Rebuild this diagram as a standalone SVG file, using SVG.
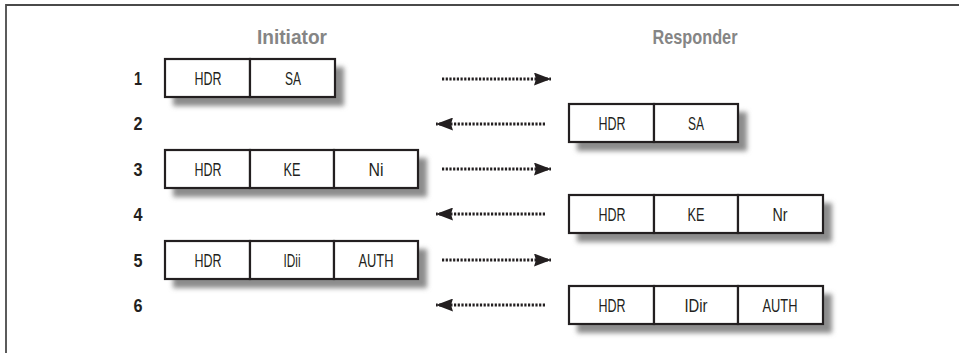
<svg xmlns="http://www.w3.org/2000/svg" width="959" height="353" viewBox="0 0 959 353">
<defs>
<filter id="sh" x="-20%" y="-50%" width="140%" height="200%">
<feGaussianBlur stdDeviation="2.8"/>
</filter>
<marker id="ah" viewBox="0 0 17 13" refX="17" refY="6.5" markerWidth="17" markerHeight="13" markerUnits="userSpaceOnUse" orient="auto">
<path d="M0,0 L17,6.5 L0,13 L2,6.5 Z" fill="#231f20"/>
</marker>
<style>
.frame{stroke:#4a4a4a;stroke-width:1.8;fill:none}
.shadow{fill:#8c8c8c;filter:url(#sh)}
.cell{fill:#fff;stroke:#231f20;stroke-width:2.2}
.lbl{font-family:"Liberation Sans",Arial,sans-serif;font-size:18px;fill:#231f20;text-anchor:middle}
.num{font-family:"Liberation Sans",Arial,sans-serif;font-size:18px;font-weight:bold;fill:#231f20;text-anchor:middle}
.ttl{font-family:"Liberation Sans",Arial,sans-serif;font-size:20px;font-weight:bold;fill:#858585;text-anchor:middle}
.arr{stroke:#231f20;stroke-width:3;stroke-dasharray:2.2 1.5;fill:none;marker-end:url(#ah)}
</style>
</defs>
<rect width="959" height="353" fill="#fff"/>
<path class="frame" d="M6,353 L6,5 L959,5"/>

<g id="titles">
<text class="ttl" x="292" y="44" textLength="70" lengthAdjust="spacingAndGlyphs">Initiator</text>
<text class="ttl" x="695" y="44" textLength="85" lengthAdjust="spacingAndGlyphs">Responder</text>
</g>

<g id="numbers">
<text class="num" x="138" y="85" textLength="8" lengthAdjust="spacingAndGlyphs">1</text>
<text class="num" x="138" y="130" textLength="9" lengthAdjust="spacingAndGlyphs">2</text>
<text class="num" x="138" y="176" textLength="9" lengthAdjust="spacingAndGlyphs">3</text>
<text class="num" x="138" y="221" textLength="9" lengthAdjust="spacingAndGlyphs">4</text>
<text class="num" x="138" y="267" textLength="9" lengthAdjust="spacingAndGlyphs">5</text>
<text class="num" x="138" y="312" textLength="9" lengthAdjust="spacingAndGlyphs">6</text>
</g>

<g id="msg1">
<rect class="shadow" x="173" y="67" width="171" height="39"/>
<rect class="cell" x="165" y="59" width="85" height="38"/>
<rect class="cell" x="250" y="59" width="85" height="38"/>
<text class="lbl" x="208" y="85" textLength="27" lengthAdjust="spacingAndGlyphs">HDR</text>
<text class="lbl" x="293" y="85" textLength="16" lengthAdjust="spacingAndGlyphs">SA</text>
</g>

<g id="msg2">
<rect class="shadow" x="577" y="112" width="170" height="39"/>
<rect class="cell" x="569" y="104" width="85" height="38"/>
<rect class="cell" x="654" y="104" width="84" height="38"/>
<text class="lbl" x="612" y="130" textLength="27" lengthAdjust="spacingAndGlyphs">HDR</text>
<text class="lbl" x="696" y="130" textLength="16" lengthAdjust="spacingAndGlyphs">SA</text>
</g>

<g id="msg3">
<rect class="shadow" x="173" y="158" width="254" height="39"/>
<rect class="cell" x="165" y="150" width="85" height="38"/>
<rect class="cell" x="250" y="150" width="84" height="38"/>
<rect class="cell" x="334" y="150" width="84" height="38"/>
<text class="lbl" x="208" y="176" textLength="27" lengthAdjust="spacingAndGlyphs">HDR</text>
<text class="lbl" x="292" y="176" textLength="17" lengthAdjust="spacingAndGlyphs">KE</text>
<text class="lbl" x="376" y="176" textLength="15" lengthAdjust="spacingAndGlyphs">Ni</text>
</g>

<g id="msg4">
<rect class="shadow" x="577" y="203" width="255" height="39"/>
<rect class="cell" x="569" y="195" width="85" height="38"/>
<rect class="cell" x="654" y="195" width="84" height="38"/>
<rect class="cell" x="738" y="195" width="85" height="38"/>
<text class="lbl" x="612" y="221" textLength="27" lengthAdjust="spacingAndGlyphs">HDR</text>
<text class="lbl" x="696" y="221" textLength="17" lengthAdjust="spacingAndGlyphs">KE</text>
<text class="lbl" x="780" y="221" textLength="15" lengthAdjust="spacingAndGlyphs">Nr</text>
</g>

<g id="msg5">
<rect class="shadow" x="173" y="249" width="254" height="39"/>
<rect class="cell" x="165" y="241" width="85" height="38"/>
<rect class="cell" x="250" y="241" width="84" height="38"/>
<rect class="cell" x="334" y="241" width="84" height="38"/>
<text class="lbl" x="208" y="267" textLength="27" lengthAdjust="spacingAndGlyphs">HDR</text>
<text class="lbl" x="292" y="267" textLength="17" lengthAdjust="spacingAndGlyphs">IDii</text>
<text class="lbl" x="376" y="267" textLength="35" lengthAdjust="spacingAndGlyphs">AUTH</text>
</g>

<g id="msg6">
<rect class="shadow" x="577" y="294" width="255" height="39"/>
<rect class="cell" x="569" y="286" width="85" height="38"/>
<rect class="cell" x="654" y="286" width="84" height="38"/>
<rect class="cell" x="738" y="286" width="85" height="38"/>
<text class="lbl" x="612" y="312" textLength="27" lengthAdjust="spacingAndGlyphs">HDR</text>
<text class="lbl" x="696" y="312" textLength="23" lengthAdjust="spacingAndGlyphs">IDir</text>
<text class="lbl" x="780" y="312" textLength="35" lengthAdjust="spacingAndGlyphs">AUTH</text>
</g>

<g id="connectors">
<line class="arr" x1="442" y1="79" x2="551" y2="79"/>
<line class="arr" x1="545" y1="124" x2="436" y2="124"/>
<line class="arr" x1="442" y1="169" x2="551" y2="169"/>
<line class="arr" x1="545" y1="214" x2="436" y2="214"/>
<line class="arr" x1="442" y1="260" x2="551" y2="260"/>
<line class="arr" x1="545" y1="305" x2="436" y2="305"/>
</g>
</svg>
